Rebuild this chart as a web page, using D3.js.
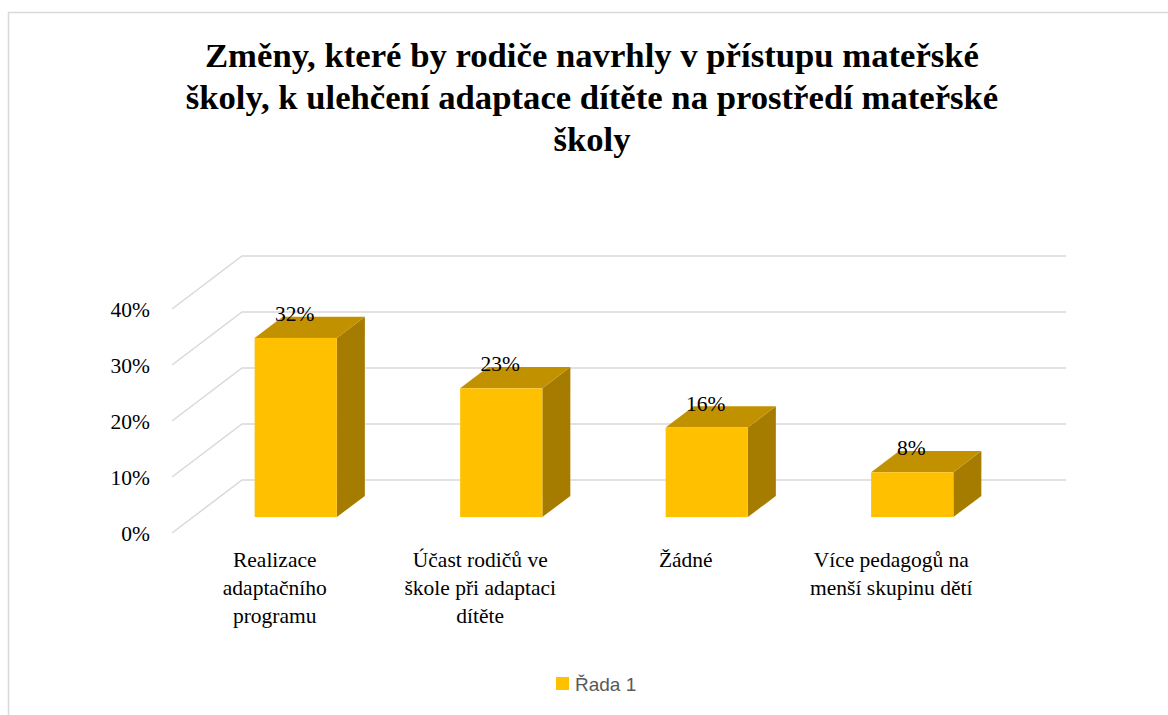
<!DOCTYPE html>
<html>
<head>
<meta charset="utf-8">
<script src="https://cdn.jsdelivr.net/npm/d3@7/dist/d3.min.js"></script>
<style>
  html, body { margin: 0; padding: 0; background: #fff; }
  svg { display: block; }
  .serif { font-family: "Liberation Serif", "Times New Roman", Times, Tinos, "Nimbus Roman", "Nimbus Roman No9 L", "FreeSerif", "Noto Serif", "DejaVu Serif", "Noto Serif CJK SC", Georgia, serif; }
  .sans { font-family: "Liberation Sans", Arial, sans-serif; }
</style>
</head>
<body>
<svg id="chart" width="1168" height="715"></svg>
<script>
// Chart data
const titleLines = [
  "Změny, které by rodiče navrhly v přístupu mateřské",
  "školy, k ulehčení adaptace dítěte na prostředí mateřské",
  "školy"
];
const categories = [
  "Realizace adaptačního programu",
  "Účast rodičů ve škole při adaptaci dítěte",
  "Žádné",
  "Více pedagogů na menší skupinu dětí"
];
const values = [0.32, 0.23, 0.16, 0.08];
const yTicks = [0, 0.1, 0.2, 0.3, 0.4];
const seriesName = "Řada 1";

const svg = d3.select("#chart");
const W = 1168, H = 715;

// Chart area frame
svg.append("rect")
  .attr("x", 8.5).attr("y", 12.5)
  .attr("width", W + 20).attr("height", H + 20)
  .attr("fill", "#fff").attr("stroke", "#d9d9d9").attr("stroke-width", 1.5);

// Title
svg.append("text")
  .attr("class", "serif")
  .attr("text-anchor", "middle")
  .attr("font-weight", "bold")
  .attr("font-size", 34.7)
  .attr("fill", "#000")
  .selectAll("tspan")
  .data(titleLines)
  .join("tspan")
  .attr("x", 592)
  .attr("y", (d, i) => 67 + i * 42)
  .text(d => d);

// 3D projection: front floor edge, and the depth vector to the back wall
const floorFrontY = 533;
const frontLeft = 172, frontRight = 994;
const depth = { dx: 70, dy: -53 };
const barDepthStart = 0.3, barDepthEnd = 0.7;

const x = d3.scaleBand()
  .domain(categories)
  .range([frontLeft, frontRight])
  .paddingInner(0.6)
  .paddingOuter(0.3);

const xLabel = d3.scaleBand()
  .domain(categories)
  .range([frontLeft, frontRight]);

const y = d3.scaleLinear().domain([0, 0.4]).range([0, 224]);

// Gridlines: side diagonal + back wall line
const grid = svg.append("g")
  .attr("fill", "none")
  .attr("stroke", "#d9d9d9")
  .attr("stroke-width", 1.5);
grid.selectAll("path")
  .data(yTicks)
  .join("path")
  .attr("d", t => {
    const fy = floorFrontY - y(t);
    const bx = frontLeft + depth.dx, by = fy + depth.dy;
    return `M${frontLeft},${fy}L${bx},${by}L${frontRight + depth.dx + 2},${by}`;
  });

// Y axis labels
svg.append("g")
  .attr("class", "serif")
  .attr("font-size", 21.5)
  .attr("fill", "#000")
  .attr("text-anchor", "end")
  .selectAll("text")
  .data(yTicks)
  .join("text")
  .attr("x", 150)
  .attr("y", t => floorFrontY - y(t) + 8)
  .text(d3.format(".0%"));

// Bars (front, top, right side faces)
const ox = depth.dx * barDepthStart, oy = depth.dy * barDepthStart;
const bdx = depth.dx * (barDepthEnd - barDepthStart);
const bdy = depth.dy * (barDepthEnd - barDepthStart);
const bars = svg.append("g").selectAll("g")
  .data(categories.map((c, i) => ({ c, v: values[i] })))
  .join("g");

bars.each(function (d) {
  const g = d3.select(this);
  const x0 = x(d.c) + ox, x1 = x0 + x.bandwidth();
  const yb = floorFrontY + oy, yt = yb - y(d.v);
  // right side
  g.append("path")
    .attr("d", `M${x1},${yb}L${x1 + bdx},${yb + bdy}L${x1 + bdx},${yt + bdy}L${x1},${yt}Z`)
    .attr("fill", "#a67c00");
  // top
  g.append("path")
    .attr("d", `M${x0},${yt}L${x0 + bdx},${yt + bdy}L${x1 + bdx},${yt + bdy}L${x1},${yt}Z`)
    .attr("fill", "#c29100");
  // front
  g.append("rect")
    .attr("x", x0).attr("y", yt)
    .attr("width", x1 - x0).attr("height", yb - yt)
    .attr("fill", "#ffc000");
});

// Data labels
svg.append("g")
  .attr("class", "serif")
  .attr("font-size", 21.5)
  .attr("fill", "#000")
  .attr("text-anchor", "middle")
  .selectAll("text")
  .data(categories.map((c, i) => ({ c, v: values[i] })))
  .join("text")
  .attr("x", d => x(d.c) + ox + x.bandwidth() / 2 - 1)
  .attr("y", d => floorFrontY + oy - y(d.v) - 17)
  .text(d => d3.format(".0%")(d.v));

// Category labels, wrapped to the category width
const catG = svg.append("g")
  .attr("class", "serif")
  .attr("font-size", 21.5)
  .attr("fill", "#000")
  .attr("text-anchor", "middle");

categories.forEach(c => {
  const cx = xLabel(c) + xLabel.bandwidth() / 2;
  const t = catG.append("text").attr("x", cx).attr("y", 567);
  const words = c.split(" ");
  const maxW = 182;
  let line = [], lineNo = 0;
  let tspan = t.append("tspan").attr("x", cx).attr("y", 567);
  words.forEach(w => {
    line.push(w);
    tspan.text(line.join(" "));
    if (tspan.node().getComputedTextLength() > maxW && line.length > 1) {
      line.pop();
      tspan.text(line.join(" "));
      line = [w];
      lineNo++;
      tspan = t.append("tspan").attr("x", cx).attr("y", 567 + lineNo * 28).text(w);
    }
  });
});

// Legend
const legend = svg.append("g");
legend.append("rect")
  .attr("x", 556).attr("y", 677)
  .attr("width", 13).attr("height", 13)
  .attr("fill", "#ffc000");
legend.append("text")
  .attr("class", "sans")
  .attr("x", 575).attr("y", 691)
  .attr("font-size", 19)
  .attr("fill", "#595959")
  .text(seriesName);
</script>
</body>
</html>
